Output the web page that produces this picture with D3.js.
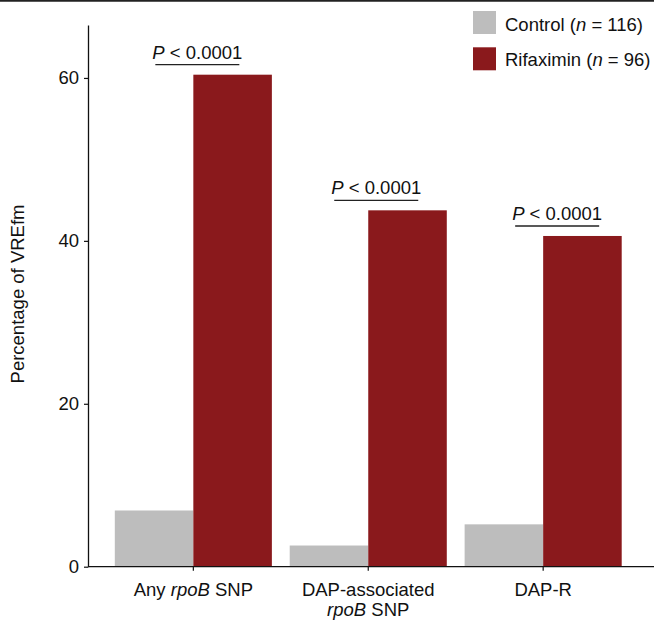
<!DOCTYPE html>
<html>
<head>
<meta charset="utf-8">
<script src="https://cdn.jsdelivr.net/npm/d3@7"></script>
<style>
  html, body { margin: 0; padding: 0; background: #fff; }
  svg { display: block; font-family: "Liberation Sans", Arial, Helvetica, sans-serif; }
</style>
</head>
<body>
<svg id="chart" width="654" height="620"></svg>
<script>
// ---- data ----
const categories = ["Any rpoB SNP", "DAP-associated rpoB SNP", "DAP-R"];
const seriesNames = ["Control", "Rifaximin"];
const seriesN = [116, 96];
const controlValues = [6.9, 2.6, 5.2];
const rifaximinValues = [60.4, 43.75, 40.6];
const pLabels = ["0.0001", "0.0001", "0.0001"];
const yTicks = [0, 20, 40, 60];
// category label lines: [text, italic] segments per line
const categoryLabelLines = [
  [[["Any ", false], ["rpoB", true], [" SNP", false]]],
  [[["DAP-associated", false]], [["rpoB", true], [" SNP", false]]],
  [[["DAP-R", false]]]
];

const colors = ["#bdbdbd", "#8a191c"];
const FS = 18.5;
const svg = d3.select("#chart");
const W = 654, H = 620;

// top rule
svg.append("line").attr("x1", 0).attr("x2", W).attr("y1", 0.8).attr("y2", 0.8)
  .attr("stroke", "#222").attr("stroke-width", 1.8);

const y = d3.scaleLinear().domain([0, 66.5]).range([566.7, 25]);
const x0 = d3.scaleBand().domain(categories).range([114.8, 621.7]).paddingInner(0.102).paddingOuter(0);
const x1 = d3.scaleBand().domain(seriesNames).range([0, x0.bandwidth()]).padding(0);

const rows = categories.map((c, i) => ({ cat: c, vals: [controlValues[i], rifaximinValues[i]] }));

// bars
const g = svg.append("g");
rows.forEach(r => {
  r.vals.forEach((v, j) => {
    g.append("rect")
      .attr("x", x0(r.cat) + x1(seriesNames[j]))
      .attr("width", x1.bandwidth())
      .attr("y", y(v))
      .attr("height", y(0) - y(v))
      .attr("fill", colors[j]);
  });
});

// y axis
const yAxis = d3.axisLeft(y).tickValues(yTicks).tickSize(4).tickSizeOuter(0).tickPadding(5);
const ya = svg.append("g").attr("transform", "translate(88,0)").call(yAxis);
ya.select(".domain").attr("stroke", "#111").attr("stroke-width", 1.3);
ya.selectAll(".tick line").attr("stroke", "#111").attr("stroke-width", 1.2);
ya.selectAll(".tick text").attr("font-size", FS).attr("fill", "#111")
  .attr("font-family", "Liberation Sans, Arial, sans-serif");

// x axis
const xAxis = d3.axisBottom(x0).tickSize(4).tickSizeOuter(0).tickFormat("");
const xa = svg.append("g").attr("transform", `translate(0,${y(0)})`).call(xAxis);
xa.select(".domain").attr("d", `M88,0H${W}`).attr("stroke", "#111").attr("stroke-width", 1.3);
xa.selectAll(".tick line").attr("stroke", "#111").attr("stroke-width", 1.2);

// category labels
categories.forEach((c, i) => {
  const cx = x0(c) + x0.bandwidth() / 2;
  categoryLabelLines[i].forEach((line, li) => {
    const t = svg.append("text")
      .attr("x", cx).attr("y", 596 + li * 19.5)
      .attr("text-anchor", "middle").attr("font-size", FS).attr("fill", "#111");
    line.forEach(([txt, it]) => {
      t.append("tspan").text(txt).attr("font-style", it ? "italic" : "normal");
    });
  });
});

// y axis title
svg.append("text")
  .attr("transform", "translate(23.5,294) rotate(-90)")
  .attr("text-anchor", "middle").attr("font-size", FS).attr("fill", "#111")
  .text("Percentage of VREfm");

// significance annotations
const annOffsets = [4, 8, 14];
rows.forEach((r, i) => {
  const cx = x0(r.cat) + x0.bandwidth() / 2 + annOffsets[i];
  const ly = y(d3.max(r.vals)) - 10;
  svg.append("line").attr("x1", cx - 42).attr("x2", cx + 42)
    .attr("y1", ly).attr("y2", ly).attr("stroke", "#222").attr("stroke-width", 1.3);
  const t = svg.append("text").attr("x", cx).attr("y", ly - 6)
    .attr("text-anchor", "middle").attr("font-size", FS).attr("fill", "#111");
  t.append("tspan").text("P").attr("font-style", "italic");
  t.append("tspan").text(" < " + pLabels[i]);
});

// legend
const legendY = [11, 47.3];
const legendBase = [30.5, 66];
seriesNames.forEach((s, j) => {
  svg.append("rect").attr("x", 473).attr("y", legendY[j]).attr("width", 23).attr("height", 23)
    .attr("fill", colors[j]);
  const t = svg.append("text").attr("x", 505).attr("y", legendBase[j])
    .attr("font-size", FS).attr("fill", "#111");
  t.append("tspan").text(s + " (");
  t.append("tspan").text("n").attr("font-style", "italic");
  t.append("tspan").text(" = " + seriesN[j] + ")");
});
</script>
</body>
</html>
